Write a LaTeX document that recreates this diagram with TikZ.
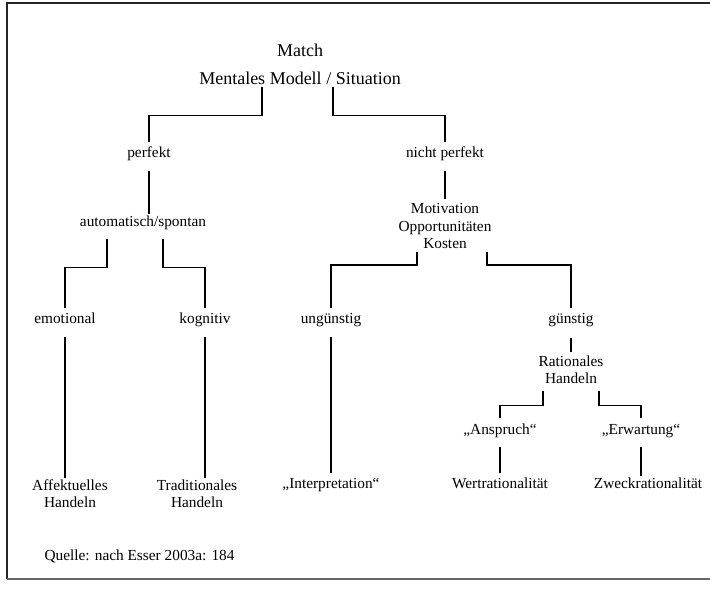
\documentclass[tikz,border=0pt]{standalone}
\usepackage{fontspec}
\setmainfont{Liberation Serif}
\begin{document}
\begin{tikzpicture}[x=0.75pt,y=-0.75pt,
  lbl/.style={font=\fontsize{11.5}{13}\selectfont, inner sep=1pt, text height=8pt, text depth=2.5pt},
  mlbl/.style={font=\fontsize{11.5}{13.1}\selectfont, inner sep=1pt, align=center},
  ttl/.style={font=\fontsize{13.5}{15}\selectfont, inner sep=1.5pt},
  conn/.style={line width=1.1pt, black},
  frame/.style={line width=1.2pt, black!85}]
\useasboundingbox (0,0) rectangle (710,589);
% frame
\draw[frame] (710,3) -- (7,3) -- (7,579);
\draw[frame, black!60] (7,579) -- (710,579);
% nodes
\node[ttl] (match) at (300,50) {Match};
\node[ttl] (mm) at (300,78) {Mentales Modell / Situation};
\node[lbl] (perf) at (149,154) {perfekt};
\node[lbl] (np) at (445,154) {nicht perfekt};
\node[lbl] (auto) at (143,223) {automatisch/spontan};
\node[mlbl] (motiv) at (445,226) {Motivation\\Opportunitäten\\Kosten};
\node[lbl] (emo) at (65,320) {emotional};
\node[lbl] (kog) at (205,320) {kognitiv};
\node[lbl] (ung) at (331,320) {ungünstig};
\node[lbl] (gun) at (571,320) {günstig};
\node[mlbl] (rat) at (571,369.5) {Rationales\\Handeln};
\node[lbl] (ans) at (500,431) {„Anspruch“};
\node[lbl] (erw) at (641,431) {„Erwartung“};
\node[mlbl] (aff) at (70,493.5) {Affektuelles\\Handeln};
\node[mlbl] (trad) at (197,493.5) {Traditionales\\Handeln};
\node[lbl] (interp) at (331,485) {„Interpretation“};
\node[lbl] (wert) at (500,485) {Wertrationalität};
\node[lbl] (zweck) at (648,485) {Zweckrationalität};
\node[lbl, anchor=west] (quelle) at (43,557) {Quelle: nach Esser 2003a: 184};
% connectors
\draw[conn] ([xshift=-28.5pt]mm.south) -- ++(0,29) -| ([yshift=2.5pt]perf.north);
\draw[conn] ([xshift=24.75pt]mm.south) -- ++(0,29) -| ([yshift=2.5pt]np.north);
\draw[conn] ([yshift=-6pt]perf.south) -- (perf.south |- auto.north);
\draw[conn] ([yshift=-6pt]np.south) -- ([yshift=2pt]motiv.north);
\draw[conn] ([xshift=-27pt,yshift=-5.8pt]auto.south) -- ++(0,28) -| ([yshift=2.5pt]emo.north);
\draw[conn] ([xshift=15pt,yshift=-5.8pt]auto.south) -- ++(0,28) -| ([yshift=2.5pt]kog.north);
\draw[conn] ([xshift=-21pt,yshift=-1.5pt]motiv.south) -- ++(0,13) -| ([yshift=2.5pt]ung.north);
\draw[conn] ([xshift=31.5pt,yshift=-1.5pt]motiv.south) -- ++(0,13) -| ([yshift=2.5pt]gun.north);
\draw[conn] ([yshift=-6.5pt]emo.south) -- (emo.south |- aff.north);
\draw[conn] ([yshift=-6.5pt]kog.south) -- (kog.south |- trad.north);
\draw[conn] ([yshift=-6.5pt]ung.south) -- ([yshift=2.5pt]interp.north);
\draw[conn] ([yshift=-7pt]gun.south) -- ([yshift=1pt]rat.north);
\draw[conn] ([xshift=-21pt,yshift=-4.5pt]rat.south) -- ++(0,14) -| ([yshift=3pt]ans.north);
\draw[conn] ([xshift=21pt,yshift=-4.5pt]rat.south) -- ++(0,14) -| ([yshift=3pt]erw.north);
\draw[conn] ([yshift=-5.8pt]ans.south) -- ([yshift=2.5pt]wert.north);
\draw[conn] ([yshift=-5.8pt]erw.south) -- (erw.south |- zweck.north);
\end{tikzpicture}
\end{document}
